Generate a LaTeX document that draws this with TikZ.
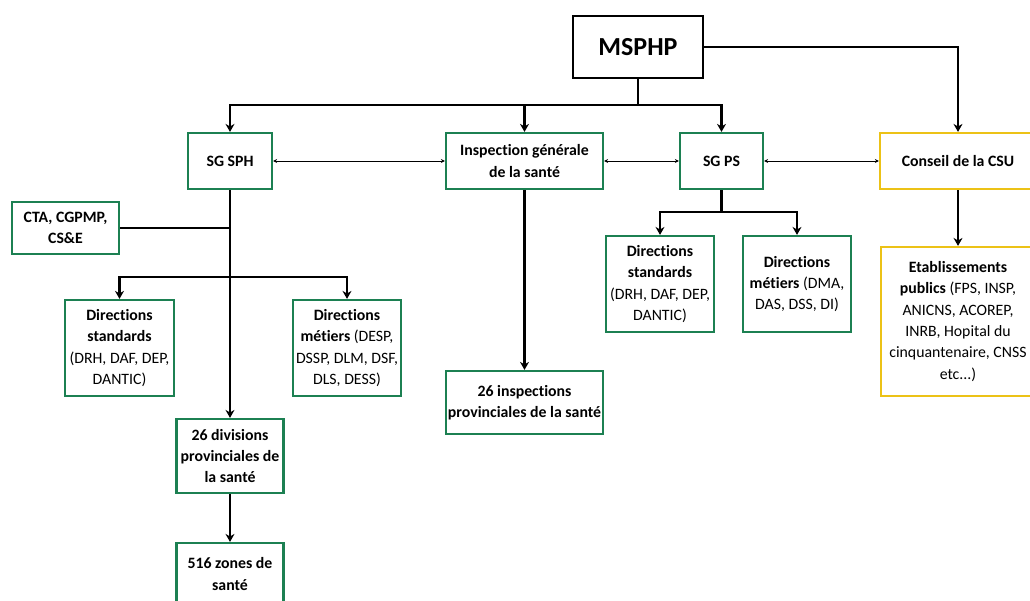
\documentclass[tikz,border=0pt]{standalone}
\usepackage{fontspec}
\setmainfont{Carlito}[Ligatures=NoCommon]
\usetikzlibrary{arrows.meta}
\definecolor{boxgreen}{RGB}{28,128,82}
\definecolor{boxyellow}{RGB}{236,194,22}
\begin{document}
\begin{tikzpicture}[x=1pt, y=-1pt,
        box/.style={rectangle, draw=boxgreen, line width=2.2pt, align=center, inner sep=0pt, font=\fontsize{15.8}{21.3}\selectfont},
        csubox/.style={box, draw=boxyellow},
        headbox/.style={box, draw=black, font=\fontsize{26}{30}\selectfont\bfseries},
        line/.style={line width=2.2pt},
        link/.style={line, -{Stealth[length=8pt, width=9pt]}},
        peer/.style={line width=0.8pt, {Stealth[length=4pt, width=4pt]}-{Stealth[length=4pt, width=4pt]}}
    ]
    \useasboundingbox (0,0) rectangle (1030,601);
    \node[headbox, minimum width=130, minimum height=62] (msphp) at (638,47) {MSPHP};
    \node[box, minimum width=84, minimum height=56] (sgsph) at (230,161) {\textbf{SG SPH}};
    \node[box, minimum width=157, minimum height=56] (igs) at (524.5,161) {\textbf{Inspection générale}\\\textbf{de la santé}};
    \node[box, minimum width=83, minimum height=56] (sgps) at (721.5,161) {\textbf{SG PS}};
    \node[csubox, minimum width=156, minimum height=56] (csu) at (958,161) {\textbf{Conseil de la CSU}};
    \node[box, minimum width=107, minimum height=52] (cta) at (65.5,228) {\textbf{CTA, CGPMP,}\\\textbf{CS\&E}};
    \node[box, minimum width=109, minimum height=96] (dstd1) at (119.5,348) {
        \textbf{Directions}\\
        \textbf{standards}\\
        (DRH, DAF, DEP,\\
        DANTIC)
    };
    \node[box, minimum width=108, minimum height=96] (dmet1) at (347,348) {
        \textbf{Directions}\\
        \textbf{métiers} (DESP,\\
        DSSP, DLM, DSF,\\
        DLS, DESS)
    };
    \node[box, minimum width=107, minimum height=74] (div) at (230,456) {\textbf{26 divisions}\\\textbf{provinciales de}\\\textbf{la santé}};
    \node[box, minimum width=107, minimum height=62] (zones) at (230,574) {\textbf{516 zones de}\\\textbf{santé}};
    \node[box, minimum width=157, minimum height=63] (insp) at (524.5,402.5) {\textbf{26 inspections}\\\textbf{provinciales de la santé}};
    \node[box, minimum width=108, minimum height=96] (dstd2) at (660,284) {
        \textbf{Directions}\\
        \textbf{standards}\\
        (DRH, DAF, DEP,\\
        DANTIC)
    };
    \node[box, minimum width=108, minimum height=96] (dmet2) at (797,284) {
        \textbf{Directions}\\
        \textbf{métiers} (DMA,\\
        DAS, DSS, DI)
    };
    \node[csubox, minimum width=154, minimum height=149] (etab) at (958,321.5) {
        \textbf{Etablissements}\\
        \textbf{publics} (FPS, INSP,\\
        ANICNS, ACOREP,\\
        INRB, Hopital du\\
        cinquantenaire, CNSS\\
        etc...)
    };
    \coordinate (top) at (638,105);
    \coordinate (fork) at (230,277);
    \coordinate (psfork) at (721.5,212);
    \draw[line] (msphp) -- (top);
    \draw[link] (top) -| (sgsph);
    \draw[link] (top) -| (sgps);
    \draw[link] (top -| igs) -- (igs);
    \draw[link] (msphp) -| (csu);
    \draw[peer] (sgsph) -- (igs);
    \draw[peer] (igs) -- (sgps);
    \draw[peer] (sgps) -- (csu);
    \draw[line] (cta) -- (cta -| sgsph);
    \draw[link] (sgsph) -- (div);
    \draw[link] (fork) -| (dstd1);
    \draw[link] (fork) -| (dmet1);
    \draw[link] (div) -- (zones);
    \draw[link] (igs) -- (insp);
    \draw[line] (sgps) -- (psfork);
    \draw[link] (psfork) -| (dstd2);
    \draw[link] (psfork) -| (dmet2);
    \draw[link] (csu) -- (etab);
\end{tikzpicture}
\end{document}
